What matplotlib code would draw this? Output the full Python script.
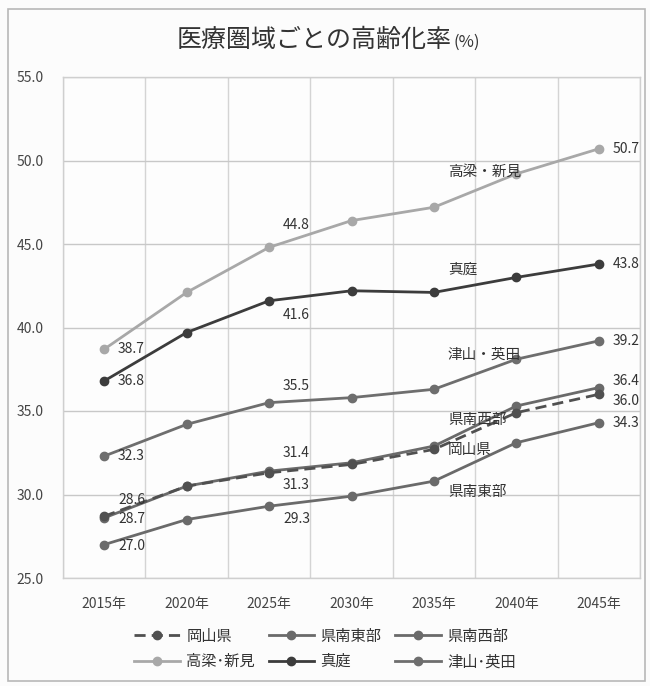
import matplotlib
matplotlib.use("Agg")
import matplotlib.pyplot as plt
from matplotlib.patches import Rectangle

plt.rcParams['font.family'] = ['Noto Sans CJK JP', 'DejaVu Sans']

years = ["2015年", "2020年", "2025年", "2030年", "2035年", "2040年", "2045年"]

okayama = [28.7, 30.5, 31.3, 31.8, 32.7, 34.9, 36.0]
kennan_east = [27.0, 28.5, 29.3, 29.9, 30.8, 33.1, 34.3]
kennan_west = [28.6, 30.5, 31.4, 31.9, 32.9, 35.3, 36.4]
takahashi_niimi = [38.7, 42.1, 44.8, 46.4, 47.2, 49.2, 50.7]
maniwa = [36.8, 39.7, 41.6, 42.2, 42.1, 43.0, 43.8]
tsuyama_aida = [32.3, 34.2, 35.5, 35.8, 36.3, 38.1, 39.2]

names = ["岡山県", "県南東部", "県南西部", "高梁・新見", "真庭", "津山・英田"]
legend_names = ["岡山県", "県南東部", "県南西部", "高梁･新見", "真庭", "津山･英田"]
series = [okayama, kennan_east, kennan_west, takahashi_niimi, maniwa, tsuyama_aida]

colors = ["#505050", "#6a6a6a", "#6a6a6a", "#a8a8a8", "#3c3c3c", "#6e6e6e"]
styles = [(0, (4, 2.2)), "-", "-", "-", "-", "-"]

# value labels: (point index, vertical offset in points)
label_spec = {
    0: [(0, -2), (2, -9), (6, -5)],
    1: [(0, -1), (2, -9), (6, 0)],
    2: [(0, 13), (2, 13), (6, 5)],
    3: [(0, 0), (2, 16), (6, 0)],
    4: [(0, 0), (2, -10), (6, 0)],
    5: [(0, 0), (2, 12), (6, 0)],
}

# series name tags inside the plot area
tag_pos = {3: 49.3, 4: 43.45, 5: 38.35, 2: 34.45, 0: 32.65, 1: 30.15}
tag_x = 4.17

fig = plt.figure(figsize=(6.5, 6.86), dpi=100, facecolor="#fcfcfc")
fig.patches.append(Rectangle((8 / 650, 5 / 686), 637 / 650, 672 / 686,
                             transform=fig.transFigure, fill=False,
                             edgecolor="#b8b8b8", lw=1.2))

ax = fig.add_axes([63 / 650, 1 - 578 / 686, 577 / 650, 501 / 686])
ax.set_facecolor("#fdfdfd")
x = list(range(len(years)))

handles = []
for i, (vals, c, ls) in enumerate(zip(series, colors, styles)):
    z = 4 if i == 0 else 3
    h, = ax.plot(x, vals, color=c, lw=2.0, ls=ls, marker="o", ms=6,
                 markerfacecolor=c, markeredgecolor=c, zorder=z,
                 label=legend_names[i])
    handles.append(h)
    for idx, dy in label_spec[i]:
        ax.annotate(f"{vals[idx]:.1f}", (x[idx], vals[idx]),
                    xytext=(10, dy), textcoords="offset points",
                    ha="left", va="center", fontsize=10, color="#333333",
                    zorder=6)

for i, yv in tag_pos.items():
    ax.text(tag_x, yv, names[i], ha="left", va="center", fontsize=10.5,
            color="#333333", zorder=6)

ax.set_xlim(-0.5, 6.5)
ax.set_ylim(25, 55)
ax.set_yticks([25, 30, 35, 40, 45, 50, 55])
ax.set_yticklabels([f"{v:.1f}" for v in [25, 30, 35, 40, 45, 50, 55]])
ax.set_xticks(x)
ax.set_xticklabels(years)
ax.set_xticks([k + 0.5 for k in range(-1, 7)], minor=True)
ax.tick_params(axis="both", which="both", length=0, labelsize=10,
               colors="#444444")
ax.tick_params(axis="x", pad=14)
ax.tick_params(axis="y", pad=14)
ax.grid(axis="y", which="major", color="#c8c8c8", lw=1.0)
ax.grid(axis="x", which="minor", color="#d4d4d4", lw=1.0)
for s in ax.spines.values():
    s.set_color("#cfcfcf")
    s.set_linewidth(1.0)

fig.text(452 / 650, 1 - 40 / 686, "医療圏域ごとの高齢化率", ha="right",
         va="center", fontsize=18, color="#333333")
fig.text(453 / 650, 1 - 42 / 686, "(%)", ha="left", va="center",
         fontsize=12, color="#333333")

order = [0, 3, 1, 4, 2, 5]
fig.legend([handles[k] for k in order], [legend_names[k] for k in order],
           loc="center", bbox_to_anchor=(0.5, 1 - 649 / 686), ncol=3,
           frameon=False, fontsize=11, handlelength=3, columnspacing=0.9,
           labelspacing=0.55, handletextpad=0.4, labelcolor="#333333")

fig.savefig("out.png", dpi=100, facecolor=fig.get_facecolor())
